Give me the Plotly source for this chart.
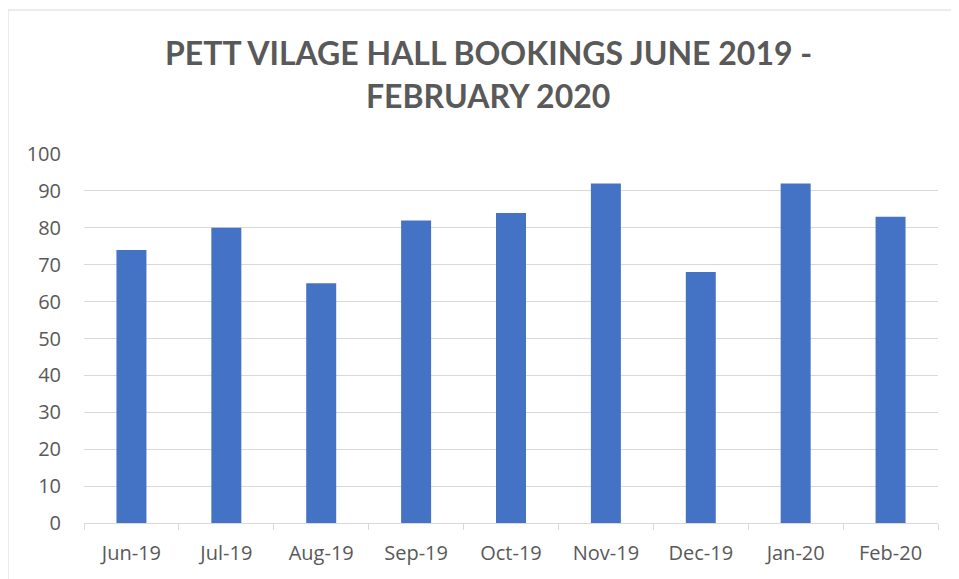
import plotly.graph_objects as go

months = ["Jun-19", "Jul-19", "Aug-19", "Sep-19", "Oct-19", "Nov-19", "Dec-19", "Jan-20", "Feb-20"]
bookings = [74, 80, 65, 82, 84, 92, 68, 92, 83]
y_ticks = [0, 10, 20, 30, 40, 50, 60, 70, 80, 90, 100]
title_lines = ["PETT VILAGE HALL BOOKINGS JUNE 2019 -", "FEBRUARY 2020"]

OFF = 8  # default page body margin
W, H = 959 - OFF, 579 - OFF
L, R, T, B = 84 - OFF, 938 - OFF, 154 - OFF, 523 - OFF

fig = go.Figure(go.Bar(x=months, y=bookings, marker=dict(color="#4472C4", line=dict(width=0))))

def px_x(p):
    return (p - OFF - L) / (R - L)

def px_y(p):
    return (B - (p - OFF)) / (B - T)

annotations = [
    dict(text=txt, xref="paper", yref="paper", x=px_x(488), y=px_y(yc),
         xanchor="center", yanchor="middle", showarrow=False,
         font=dict(family="Lato", size=32, color="#595959", weight="bold"))
    for txt, yc in zip(title_lines, [52.5, 95.5])
]

fig.update_layout(
    width=W, height=H,
    margin=dict(l=L, r=W - R, t=T, b=H - B),
    paper_bgcolor="white", plot_bgcolor="white",
    bargap=0.684,
    showlegend=False,
    annotations=annotations,
    xaxis=dict(
        type="category",
        showgrid=False,
        showline=True, linecolor="#d9d9d9", linewidth=1,
        ticks="outside", tickson="boundaries", ticklen=6, tickcolor="#d9d9d9",
        ticklabelstandoff=12,
        tickfont=dict(family="Open Sans", size=20, color="#595959"),
    ),
    yaxis=dict(
        range=[0, 100],
        tickvals=y_ticks,
        showgrid=True, gridcolor="#d9d9d9", gridwidth=1,
        zeroline=False, showline=False,
        ticks="", ticklabelstandoff=22,
        tickfont=dict(family="Open Sans", size=20, color="#595959"),
    ),
    shapes=[dict(
        type="rect", xref="paper", yref="paper",
        x0=px_x(8), x1=px_x(966), y0=px_y(586), y1=px_y(10),
        line=dict(color="#d9d9d9", width=1), fillcolor="rgba(0,0,0,0)", layer="below",
    )],
)

fig.write_html("out.html")
